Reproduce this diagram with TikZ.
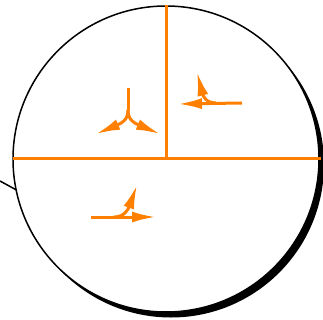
\documentclass[tikz,border=0pt]{standalone}
\usetikzlibrary{arrows.meta}
\definecolor{flow}{HTML}{FF8000}
\begin{document}
\begin{tikzpicture}[x=1pt,y=-1pt,
  divline/.style={draw=flow,line width=3pt},
  flowarrow/.style={draw=flow,line width=3pt,-{Latex[length=24pt,width=11pt]}},
  flowline/.style={draw=flow,line width=3pt}]
\useasboundingbox (0,0) rectangle (323,320);
% shadow
\fill[black] (171,164.5) circle[radius=153];
\node[circle,draw=black,fill=white,line width=1.5pt,minimum size=306pt,inner sep=0pt] (disc) at (166,159) {};
\coordinate (lt) at (0,181);
\coordinate (lc) at (16.5,190);
\draw[line width=1.5pt] (lt) -- (lc);
% dividing lines
\coordinate (hl) at (13,159);
\coordinate (hr) at (321,159);
\coordinate (vt) at (166,5);
\coordinate (vb) at (166,159);
\draw[divline] (hl) -- (hr);
\draw[divline] (vt) -- (vb);
% group 1
\coordinate (s1) at (128,88);
\coordinate (s2) at (128,110);
\coordinate (t1l) at (96,134);
\coordinate (t1r) at (160,134);
\draw[flowline] (s1) -- (s2);
\draw[flowarrow] (s2) .. controls (128,120) and (122,123) .. (t1l);
\draw[flowarrow] (s2) .. controls (128,120) and (134,123) .. (t1r);
% group 2
\coordinate (a2) at (242,103);
\coordinate (t2l) at (178,104);
\coordinate (b2) at (216,103);
\coordinate (t2u) at (197,72);
\draw[flowarrow] (a2) -- (t2l);
\draw[flowarrow] (b2) .. controls (206,103) and (203,96) .. (t2u);
% group 3
\coordinate (a3) at (91,217);
\coordinate (t3r) at (156,217);
\coordinate (b3) at (114,217);
\coordinate (t3u) at (137,185);
\draw[flowarrow] (a3) -- (t3r);
\draw[flowarrow] (b3) .. controls (124,217) and (128,210) .. (t3u);
\end{tikzpicture}
\end{document}
